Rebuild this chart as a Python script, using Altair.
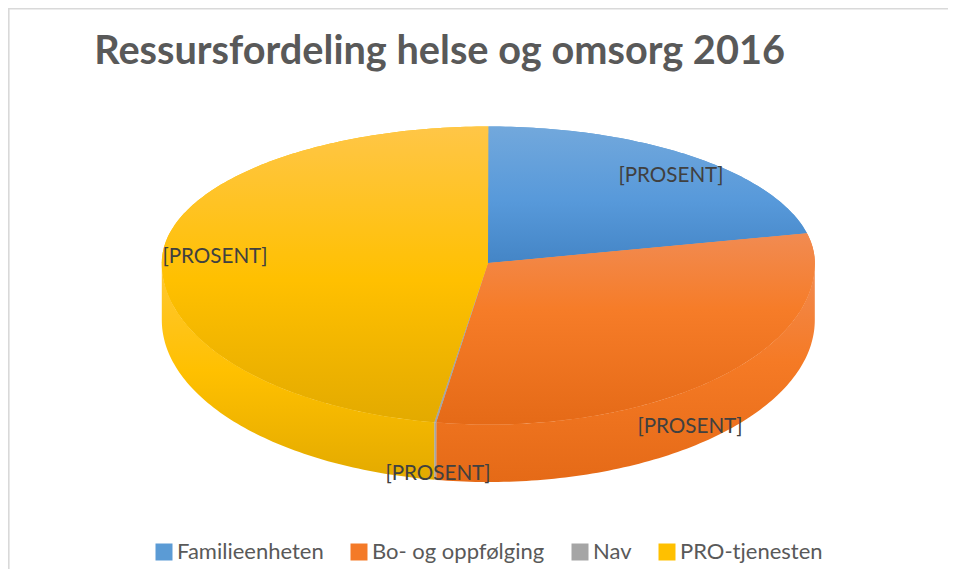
import math
import altair as alt

# Values (share of the whole pie, percent)
categories = ["Familieenheten", "Bo- og oppfølging", "Nav", "PRO-tjenesten"]
shares = [21.5, 31.05, 0.1, 47.35]
label_text = ["[PROSENT]", "[PROSENT]", "[PROSENT]", "[PROSENT]"]
title_text = "Ressursfordeling helse og omsorg 2016"

# Legend colours
legend_colors = ["#5b9bd5", "#f47a28", "#a5a5a5", "#ffc000"]

# Gradient stops (offset, colour) by slice
face_stops = [
    [(0, "#72a8dc"), (0.55, "#5799da"), (1, "#4485c6")],
    [(0, "#f18b52"), (0.4, "#f67c28"), (1, "#e56a17")],
    [(0, "#a5a5a5"), (1, "#a5a5a5")],
    [(0, "#ffc647"), (0.52, "#ffc000"), (1, "#e3aa00")],
]
side_stops = [
    [(0, "#4485c6"), (1, "#4485c6")],
    [(0, "#f18b52"), (0.45, "#f57a25"), (1, "#e56a17")],
    [(0, "#a5a5a5"), (1, "#a5a5a5")],
    [(0, "#ffc835"), (0.5, "#ffc000"), (1, "#e3aa00")],
]

# Layout of the drawing (page pixels minus the 8px page margin)
OFF = 8
CX, RX = 488.3 - OFF, 326.5
TOP_CY, TOP_RY_BACK, TOP_RY_FRONT = 263 - OFF, 136.5, 161.5
BOT_CY, BOT_RY = 320 - OFF, 162
APEX = (488 - OFF, 263 - OFF)
label_pos = [(671 - OFF, 176 - OFF), (690 - OFF, 427 - OFF), (438 - OFF, 474 - OFF), (215 - OFF, 257 - OFF)]


def top_pt(deg):
    a = math.radians(deg)
    c = math.cos(a)
    return [CX + RX * math.sin(a), TOP_CY - (TOP_RY_BACK if c > 0 else TOP_RY_FRONT) * c]


def bot_pt(deg):
    a = math.radians(deg)
    return [CX + RX * math.sin(a), BOT_CY - BOT_RY * math.cos(a)]


def arc(fn, d0, d1):
    n = max(2, int(abs(d1 - d0)) + 2)
    return [fn(d0 + (d1 - d0) * i / (n - 1)) for i in range(n)]


def feature(name, ring):
    ring = ring + [ring[0]]
    return {
        "type": "Feature",
        "properties": {"name": name},
        "geometry": {"type": "Polygon", "coordinates": [ring]},
    }


proj = dict(type="identity", scale=1, translate=[0, 0])


def grad(stops):
    return alt.LinearGradient(
        gradient="linear",
        x1=0, x2=0, y1=0, y2=1,
        stops=[alt.GradientStop(offset=o, color=c) for o, c in stops],
    )


faces, sides = [], []
start = 0.0
for name, s in zip(categories, shares):
    end = start + s * 3.6
    faces.append(feature(name, [list(APEX)] + arc(top_pt, start, end)))
    lo, hi = max(start, 90.0), min(end, 270.0)
    if hi > lo:
        sides.append(feature(name, arc(top_pt, lo, hi) + arc(bot_pt, hi, lo)))
    else:
        sides.append(None)
    start = end

layers = []

# Frame of the chart area
layers.append(
    alt.Chart(alt.InlineData(values=[{"a": 0}])).mark_rule(color="#d9d9d9", strokeWidth=1.6).encode(
        x=alt.value(0.8), y=alt.value(0), y2=alt.value(561)
    )
)
layers.append(
    alt.Chart(alt.InlineData(values=[{"a": 0}])).mark_rule(color="#d9d9d9", strokeWidth=1.6).encode(
        y=alt.value(0.8), x=alt.value(0), x2=alt.value(940)
    )
)

# Side walls, drawn before the top face
for i, f in enumerate(sides):
    if f is not None:
        layers.append(
            alt.Chart(alt.InlineData(values=[f]))
            .mark_geoshape(fill=grad(side_stops[i]), stroke="transparent", strokeWidth=0)
            .project(**proj)
        )

# Flat coloured top face: carries the legend
layers.append(
    alt.Chart(alt.InlineData(values=faces))
    .mark_geoshape(stroke="transparent", strokeWidth=0)
    .encode(
        color=alt.Color(
            "properties.name:N",
            scale=alt.Scale(domain=categories, range=legend_colors),
            legend=alt.Legend(
                title=None,
                orient="none",
                legendX=145,
                legendY=533,
                direction="horizontal",
                columns=4,
                symbolType="square",
                symbolSize=289,
                symbolStrokeWidth=0,
                labelFont="Lato",
                labelFontSize=22,
                labelColor="#595959",
                labelOffset=2,
                columnPadding=24,
                labelLimit=400,
            ),
        )
    )
    .project(**proj)
)

# Shaded top face
for i, f in enumerate(faces):
    layers.append(
        alt.Chart(alt.InlineData(values=[f]))
        .mark_geoshape(fill=grad(face_stops[i]), stroke="transparent", strokeWidth=0)
        .project(**proj)
    )

# Data labels
for txt, (px, py) in zip(label_text, label_pos):
    layers.append(
        alt.Chart(alt.InlineData(values=[{"label": txt}]))
        .mark_text(font="Lato", fontSize=20.6, color="#404040", align="center", baseline="middle")
        .encode(x=alt.value(px), y=alt.value(py), text="label:N")
    )

chart = (
    alt.layer(*layers)
    .properties(
        width=940,
        height=561,
        padding=0,
        autosize=alt.AutoSizeParams(type="none"),
        title=alt.TitleParams(
            text=title_text,
            anchor="start",
            font="Lato",
            fontSize=39.7,
            fontWeight="bold",
            color="#595959",
            dx=87,
            dy=69,
        ),
    )
    .configure_view(stroke=None)
)

chart.save("out.html", embed_options={"renderer": "svg", "actions": False})
